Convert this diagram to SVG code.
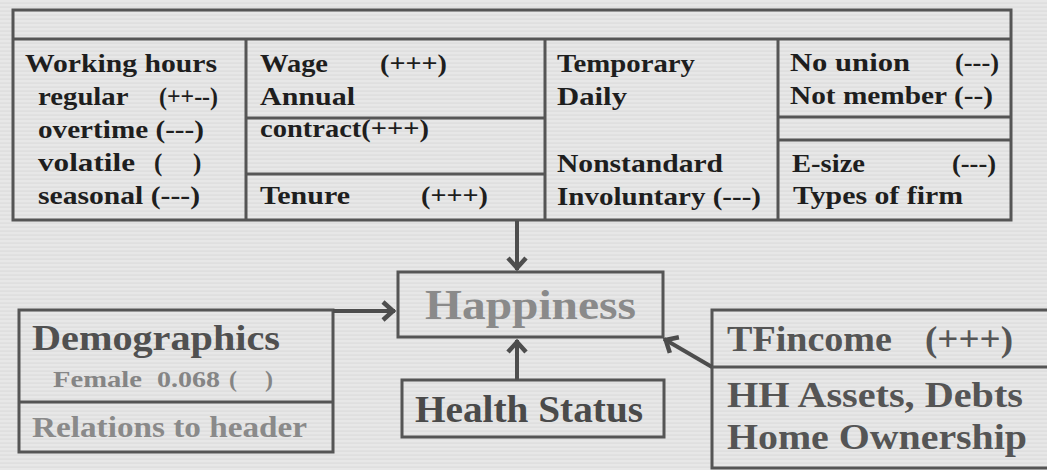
<svg xmlns="http://www.w3.org/2000/svg" width="1047" height="470" viewBox="0 0 1047 470">
<defs>
<pattern id="stripes" width="8" height="4" patternUnits="userSpaceOnUse">
<rect width="8" height="4" fill="#e7e7e7"/>
<rect y="2.5" width="8" height="1.2" fill="#dcdcdc"/>
</pattern>
<marker id="arrow" markerUnits="userSpaceOnUse" markerWidth="24" markerHeight="24" refX="0" refY="0" orient="auto" overflow="visible">
<path d="M-12,-9 L-2,0 L-12,9" fill="none" stroke="#4d4d4d" stroke-width="4.5" stroke-linejoin="miter" stroke-linecap="butt"/>
</marker>
<style>
.box{fill:none;stroke:#555;stroke-width:3}
.div{stroke:#555;stroke-width:3;fill:none}
.conn{stroke:#4d4d4d;stroke-width:4;fill:none}
.t{font-family:"Liberation Serif","Times New Roman",serif;font-weight:bold;fill:#1e1e1e;font-size:25px}
.big{font-family:"Liberation Serif","Times New Roman",serif;font-weight:bold}
</style>
</defs>
<rect width="1047" height="470" fill="url(#stripes)"/>

<g id="factors-table">
<rect class="box" x="13" y="10" width="998" height="210"/>
<line class="div" x1="13" y1="39" x2="1011" y2="39"/>
<line class="div" x1="246" y1="39" x2="246" y2="220"/>
<line class="div" x1="545" y1="39" x2="545" y2="220"/>
<line class="div" x1="778" y1="39" x2="778" y2="220"/>
<line class="div" x1="246" y1="118" x2="545" y2="118"/>
<line class="div" x1="246" y1="174" x2="545" y2="174"/>
<line class="div" x1="778" y1="117" x2="1011" y2="117"/>
<line class="div" x1="778" y1="140" x2="1011" y2="140"/>
</g>

<g id="working-hours">
<text class="t" x="25" y="72" textLength="192" lengthAdjust="spacingAndGlyphs">Working hours</text>
<text class="t" y="105"><tspan x="38" textLength="90" lengthAdjust="spacingAndGlyphs">regular</tspan> <tspan x="159" textLength="59" lengthAdjust="spacingAndGlyphs">(++--)</tspan></text>
<text class="t" x="38" y="138" textLength="166" lengthAdjust="spacingAndGlyphs">overtime (---)</text>
<text class="t" y="171"><tspan x="38" textLength="97" lengthAdjust="spacingAndGlyphs">volatile</tspan> <tspan x="154">(</tspan> <tspan x="193">)</tspan></text>
<text class="t" x="38" y="204" textLength="162" lengthAdjust="spacingAndGlyphs">seasonal (---)</text>
</g>

<g id="wage">
<text class="t" y="72"><tspan x="260" textLength="68" lengthAdjust="spacingAndGlyphs">Wage</tspan> <tspan x="380" textLength="67" lengthAdjust="spacingAndGlyphs">(+++)</tspan></text>
<text class="t" x="260" y="105" textLength="95" lengthAdjust="spacingAndGlyphs">Annual</text>
<text class="t" x="260" y="137" textLength="169" lengthAdjust="spacingAndGlyphs">contract(+++)</text>
<text class="t" y="204"><tspan x="260" textLength="90" lengthAdjust="spacingAndGlyphs">Tenure</tspan> <tspan x="421" textLength="67" lengthAdjust="spacingAndGlyphs">(+++)</tspan></text>
</g>

<g id="temporary">
<text class="t" x="557" y="72" textLength="138" lengthAdjust="spacingAndGlyphs">Temporary</text>
<text class="t" x="557" y="105" textLength="70" lengthAdjust="spacingAndGlyphs">Daily</text>
<text class="t" x="557" y="172" textLength="166" lengthAdjust="spacingAndGlyphs">Nonstandard</text>
<text class="t" x="557" y="205" textLength="204" lengthAdjust="spacingAndGlyphs">Involuntary (---)</text>
</g>

<g id="union-firm">
<text class="t" y="71"><tspan x="790" textLength="120" lengthAdjust="spacingAndGlyphs">No union</tspan> <tspan x="955" textLength="44" lengthAdjust="spacingAndGlyphs">(---)</tspan></text>
<text class="t" x="790" y="104" textLength="203" lengthAdjust="spacingAndGlyphs">Not member (--)</text>
<text class="t" y="172"><tspan x="792" textLength="73" lengthAdjust="spacingAndGlyphs">E-size</tspan> <tspan x="952" textLength="44" lengthAdjust="spacingAndGlyphs">(---)</tspan></text>
<text class="t" x="793" y="204" textLength="170" lengthAdjust="spacingAndGlyphs">Types of firm</text>
</g>

<g id="happiness">
<rect class="box" x="398" y="272" width="265" height="65"/>
<text class="big" x="425" y="319" font-size="43" fill="#8a8a8a" textLength="211" lengthAdjust="spacingAndGlyphs">Happiness</text>
</g>

<g id="demographics">
<rect class="box" x="19" y="310" width="314" height="142"/>
<line class="div" x1="19" y1="402" x2="333" y2="402"/>
<text class="big" x="32" y="350" font-size="35" fill="#505050" textLength="248" lengthAdjust="spacingAndGlyphs">Demographics</text>
<text class="big" y="387" font-size="24" fill="#858585"><tspan x="53" textLength="89" lengthAdjust="spacingAndGlyphs">Female</tspan> <tspan x="157" textLength="63" lengthAdjust="spacingAndGlyphs">0.068</tspan> <tspan x="229">(</tspan> <tspan x="265">)</tspan></text>
<text class="big" x="32" y="437" font-size="29" fill="#8a8a8a" textLength="275" lengthAdjust="spacingAndGlyphs">Relations to header</text>
</g>

<g id="health-status">
<rect class="box" x="402" y="380" width="262" height="57"/>
<text class="big" x="415" y="422" font-size="37" fill="#4a4a4a" textLength="228" lengthAdjust="spacingAndGlyphs">Health Status</text>
</g>

<g id="income">
<rect class="box" x="712" y="310" width="350" height="158"/>
<line class="div" x1="712" y1="367" x2="1062" y2="367"/>
<text class="big" y="351" font-size="36" fill="#555"><tspan x="727" textLength="165" lengthAdjust="spacingAndGlyphs">TFincome</tspan> <tspan x="925" textLength="88" lengthAdjust="spacingAndGlyphs">(+++)</tspan></text>
<text class="big" x="727" y="407" font-size="36" fill="#555" textLength="296" lengthAdjust="spacingAndGlyphs">HH Assets, Debts</text>
<text class="big" x="727" y="449" font-size="36" fill="#555" textLength="300" lengthAdjust="spacingAndGlyphs">Home Ownership</text>
</g>

<g id="connectors">
<line class="conn" x1="517" y1="221" x2="517" y2="270" marker-end="url(#arrow)"/>
<line class="conn" x1="333" y1="311" x2="395" y2="311" marker-end="url(#arrow)"/>
<line class="conn" x1="517" y1="380" x2="517" y2="340" marker-end="url(#arrow)"/>
<line class="conn" x1="712" y1="367" x2="664" y2="339" marker-end="url(#arrow)"/>
</g>
</svg>
